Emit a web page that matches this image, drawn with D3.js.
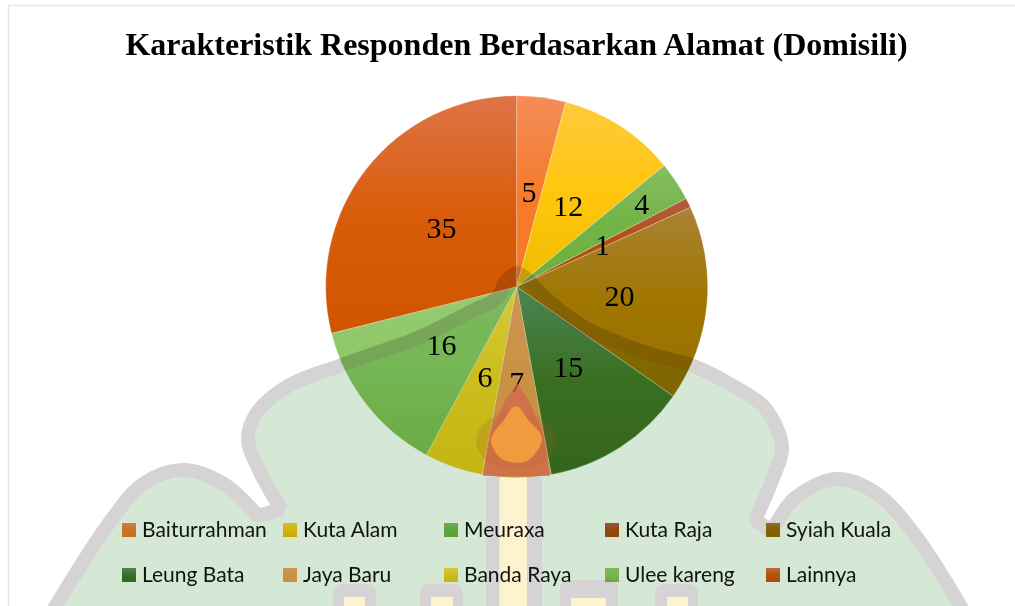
<!DOCTYPE html>
<html><head><meta charset="utf-8">
<script src="https://cdn.jsdelivr.net/npm/d3@7"></script>
<style>html,body{margin:0;padding:0;background:#fff;overflow:hidden}svg{display:block}</style>
</head><body><svg id="c" width="1015" height="606"></svg>
<script>
const titleText = "Karakteristik Responden Berdasarkan Alamat (Domisili)";
const categories = ["Baiturrahman","Kuta Alam","Meuraxa","Kuta Raja","Syiah Kuala","Leung Bata","Jaya Baru","Banda Raya","Ulee kareng","Lainnya"];
const values = [5,12,4,1,20,15,7,6,16,35];
const topColors = ["#f58c58","#ffc93f","#86bd62","#b25e3e","#a98234","#5c9264","#f6a560","#ffdd48","#96ca72","#df7448"];
const midColors = ["#f47c2c","#ffc60c","#72b446","#b24f12","#a07600","#457a28","#f2a052","#f3d020","#8cc865","#d95c0a"];
const botColors = ["#f47a24","#f0bb00","#6eb03e","#a64e08","#967000","#3d6f22","#ee9e50","#ecc718","#80bb52","#d15400"];
const labelRadiusFactor = [1,1,1.57,1,1.08,1,1,1,1,1];

// watermark (decorative crest behind the chart)
const lobeLeft = [[52,612],[112,519],[143,484],[183,470],[224,484],[258,516]];
const domeOutline = [[281,509],[260,472],[248,440],[256,414],[288,386],[342,365],[420,337],[470,312],[497,298],[506,281],[517,273],[529,281],[543,296],[584,327],[650,354],[691,365],[735,387],[765,408],[782,447],[773,478],[755,520]];
const lobeRight = [[772,531],[795,498],[837,479],[876,493],[915,535],[964,612]];
const towers = [[333,376,584,344,365,597],[420,463,584,431,453,597],[560,618,580,571,606,598],[655,698,584,667,688,597]];
const flameShape = [[516,406],[503,421],[491,440],[502,459],[527,461],[542,438],[529,421]];
const flameGlow = [[517,383],[505,401],[490,433],[483,476],[550,476],[543,433],[529,401]];

const W=1015,H=606,cx=516.7,cy=286.7,R=191;
const svg=d3.select("#c");
const defs=svg.append("defs");
categories.forEach((c,i)=>{
  const g=defs.append("linearGradient").attr("id","g"+i).attr("x1",0).attr("y1",0).attr("x2",0).attr("y2",1);
  g.append("stop").attr("offset",0).attr("stop-color",topColors[i]);
  g.append("stop").attr("offset",.5).attr("stop-color",midColors[i]);
  g.append("stop").attr("offset",1).attr("stop-color",botColors[i]);
});
svg.append("rect").attr("width",W).attr("height",H).attr("fill","#fff");
svg.append("path").attr("d","M1015,5.5H8.5V606").attr("fill","none").attr("stroke","#dfe7f0").attr("stroke-width",1.5);

const pie=d3.pie().sort(null).value(d=>d)(values);
const arc=d3.arc().innerRadius(0).outerRadius(R);
const G=svg.append("g").attr("transform",`translate(${cx},${cy})`);
G.selectAll("path").data(pie).join("path").attr("d",arc)
  .attr("fill",(d,i)=>`url(#g${i})`).attr("stroke","rgba(255,255,255,.45)").attr("stroke-width",.6);

svg.append("text").text(titleText).attr("x",516.5).attr("y",55).attr("text-anchor","middle")
  .attr("font-family","'Liberation Serif'").attr("font-weight","bold").attr("font-size",32).attr("fill","#000");

const colX=d3.scaleBand().domain(d3.range(5)).range([122,927]);
const rowY=d3.scaleBand().domain([0,1]).range([523,613]);
const L=svg.append("g").selectAll("g").data(categories).join("g")
  .attr("transform",(d,i)=>`translate(${colX(i%5)},${rowY(Math.floor(i/5))})`);
L.append("rect").attr("width",14).attr("height",14).attr("fill",(d,i)=>`url(#g${i})`);
L.append("text").text(d=>d).attr("x",20).attr("y",14).attr("font-family","Lato").attr("font-size",21).attr("fill","#141414");

const wm=svg.append("g").style("mix-blend-mode","multiply").style("isolation","isolate");
const curve=d3.line().curve(d3.curveCatmullRom.alpha(.5));
const outline=curve(lobeLeft)+"L"+curve(domeOutline).slice(1)+"L"+curve(lobeRight).slice(1);
wm.append("path").attr("d",outline+"Z").attr("fill","#d5e8d5");
wm.append("path").attr("d",outline).attr("fill","none").attr("stroke","#d5d3d4").attr("stroke-width",14).attr("stroke-linejoin","bevel");
towers.forEach(t=>{
  wm.append("path").attr("d",`M${t[0]},612V${t[2]+10}Q${t[0]},${t[2]} ${t[0]+10},${t[2]}H${t[1]-10}Q${t[1]},${t[2]} ${t[1]},${t[2]+10}V612Z`).attr("fill","#d5d3d4");
  wm.append("rect").attr("x",t[3]).attr("y",t[5]).attr("width",t[4]-t[3]).attr("height",H-t[5]).attr("fill","#fdf4cf");
});
wm.append("rect").attr("x",486).attr("y",477).attr("width",56).attr("height",H-477).attr("fill","#d5d3d4");
wm.append("rect").attr("x",499.5).attr("y",477).attr("width",27.5).attr("height",H-477).attr("fill","#fdf4cf");

svg.append("ellipse").attr("cx",516).attr("cy",441).attr("rx",40).attr("ry",29).attr("fill","#a85c20").attr("opacity",.22);
const cl=d3.line().curve(d3.curveLinearClosed);
svg.append("path").attr("d",cl(flameGlow)).attr("fill","#d0684a").attr("opacity",.75);
svg.append("path").attr("d",d3.line().curve(d3.curveCatmullRomClosed.alpha(.5))(flameShape)).attr("fill","#f29b3e");

G.selectAll("text").data(pie).join("text").text(d=>d.data)
  .attr("transform",(d,i)=>{const c=arc.centroid(d),f=labelRadiusFactor[i];return `translate(${c[0]*f},${c[1]*f})`;})
  .attr("text-anchor","middle").attr("dy","0.33em")
  .attr("font-family","'Liberation Serif'").attr("font-size",30).attr("fill","#000");
</script></body></html>
